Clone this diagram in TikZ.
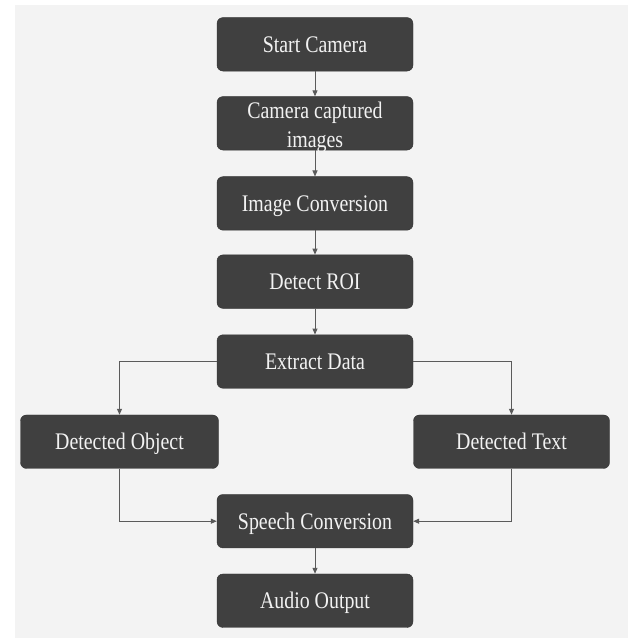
\documentclass[tikz,border=0pt]{standalone}
\usepackage{fontspec}
\setmainfont{Liberation Serif}
\usetikzlibrary{arrows.meta}
\definecolor{boxfill}{HTML}{404040}
\definecolor{boxtext}{HTML}{F2F2F2}
\definecolor{linegray}{HTML}{5A5A5A}
\definecolor{bggray}{HTML}{F3F3F3}
\newcommand{\tallt}[1]{\scalebox{0.97}[1.16]{#1}}
\tikzset{
  flowbox/.style={draw=boxfill!80!black, fill=boxfill, rounded corners=6pt,
    minimum width=196pt, minimum height=53.5pt, inner sep=0pt,
    text=boxtext, align=center,
    font=\fontsize{20.5}{25}\selectfont},
  oneline/.style={text height=26pt, text depth=10pt},
  flowarrow/.style={draw=linegray, line width=1pt,
    -{Triangle[length=6pt,width=5pt]}}
}
\begin{document}
\begin{tikzpicture}[x=1pt,y=-1pt]
\useasboundingbox (0,0) rectangle (628,638);
\fill[white] (0,0) rectangle (628,638);
\fill[bggray] (15,5) rectangle (628,638);

\node[flowbox, oneline] (start) at (315,44.3) {\tallt{Start Camera}};
\node[flowbox, text height=20pt, text depth=30.6pt] (cap) at (315,123.3)
  {\tallt{\begin{tabular}[t]{@{}c@{}}Camera captured\\images\end{tabular}}};
\node[flowbox, oneline] (conv) at (315,203.4) {\tallt{Image Conversion}};
\node[flowbox, oneline] (roi) at (315,281.6) {\tallt{Detect ROI}};
\node[flowbox, oneline] (ext) at (315,361.5) {\tallt{Extract Data}};
\node[flowbox, oneline, minimum width=198pt] (obj) at (119.5,441.7) {\tallt{Detected Object}};
\node[flowbox, oneline] (txt) at (511.5,441.7) {\tallt{Detected Text}};
\node[flowbox, oneline] (sp) at (315,521.2) {\tallt{Speech Conversion}};
\node[flowbox, oneline] (audio) at (315,600.7) {\tallt{Audio Output}};

\draw[flowarrow] (start) -- (cap);
\draw[flowarrow] (cap) -- (conv);
\draw[flowarrow] (conv) -- (roi);
\draw[flowarrow] (roi) -- (ext);
\draw[flowarrow] (ext.west) -| (obj.north);
\draw[flowarrow] (ext.east) -| (txt.north);
\draw[flowarrow] (obj.south) |- (sp.west);
\draw[flowarrow] (txt.south) |- (sp.east);
\draw[flowarrow] (sp) -- (audio);
\end{tikzpicture}
\end{document}
